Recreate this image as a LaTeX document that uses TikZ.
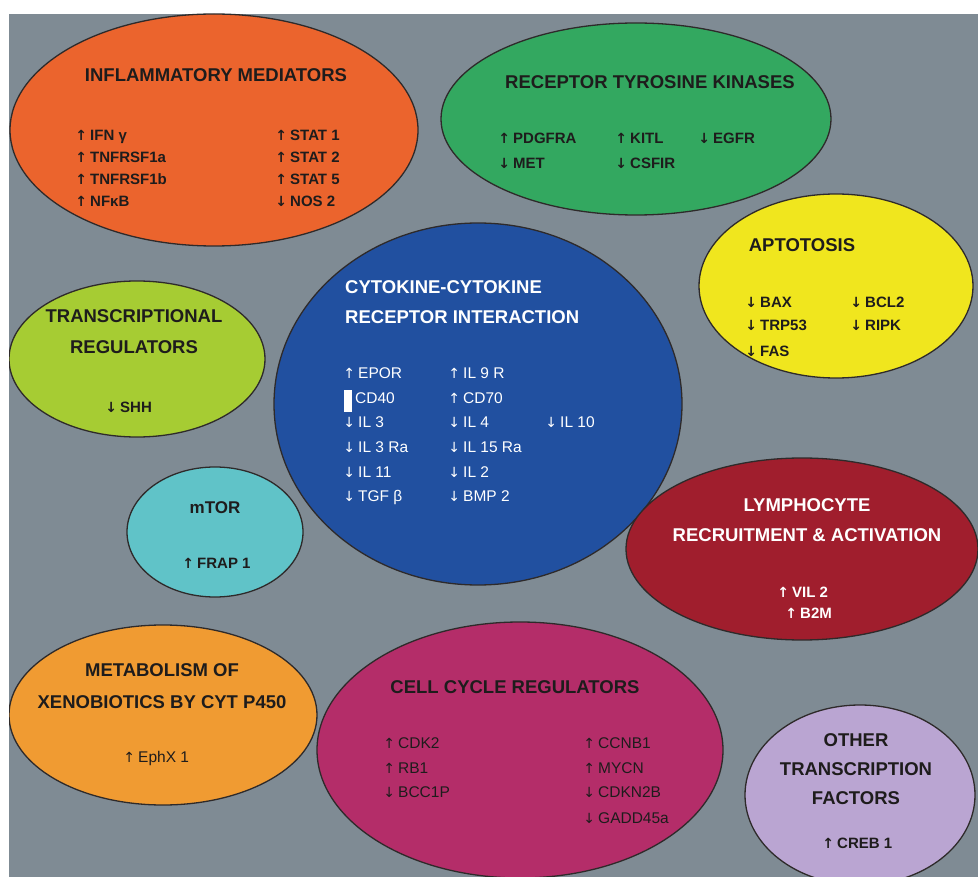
\documentclass[tikz,border=0pt]{standalone}
\usepackage{fontspec}
\setmainfont{Liberation Sans}
\newfontfamily\arrowfont{DejaVu Sans}
\usetikzlibrary{shapes.geometric}

\definecolor{backdrop}{HTML}{7F8B94}
\definecolor{edgecol}{HTML}{2E2A2A}
\definecolor{darktext}{HTML}{1E1C1C}
\definecolor{inflamcol}{HTML}{EB642D}
\definecolor{rtkcol}{HTML}{33A860}
\definecolor{apopcol}{HTML}{F0E61E}
\definecolor{transccol}{HTML}{A6CC33}
\definecolor{cytocol}{HTML}{2150A0}
\definecolor{mtorcol}{HTML}{60C3C8}
\definecolor{lymphcol}{HTML}{A01E2D}
\definecolor{metabcol}{HTML}{F09B32}
\definecolor{cellcol}{HTML}{B42D69}
\definecolor{othercol}{HTML}{BAA5D2}

\newcommand{\incr}{\makebox[11pt][l]{\hspace{2pt}\makebox[0pt][c]{\arrowfont\fontsize{14}{14}\selectfont ↑}}}
\newcommand{\decr}{\makebox[11pt][l]{\hspace{2pt}\makebox[0pt][c]{\arrowfont\fontsize{14}{14}\selectfont ↓}}}
\newcommand{\blankmark}{\makebox[11pt][l]{\color{white}\rule[-9pt]{8pt}{22pt}}}

\begin{document}
\begin{tikzpicture}[x=1pt, y=-1pt,
        bubble/.style = {ellipse, draw=edgecol, line width=1.3pt, inner sep=0pt},
        heading/.style = {font=\bfseries\fontsize{18.5}{30}\selectfont, inner sep=0pt,
            align=center, text=darktext},
        gene/.style = {font=\fontsize{15.5}{15.5}\selectfont, inner sep=0pt,
            anchor=base west, text=darktext},
        boldgene/.style = {gene, font=\bfseries\fontsize{15}{15}\selectfont}]
    \useasboundingbox (0,0) rectangle (978,877);
    \fill[white] (0,0) rectangle (978,877);
    \fill[backdrop] (9,14) rectangle (978,877);

    % the bubbles
    \begin{scope}
        \clip (9,14) rectangle (978,877);
        \node[bubble, fill=inflamcol, minimum width=408pt, minimum height=232pt] (inflam) at (214,130) {};
        \node[bubble, fill=rtkcol, minimum width=390pt, minimum height=192pt] (rtk) at (636,119) {};
        \node[bubble, fill=apopcol, minimum width=274pt, minimum height=184pt] (apop) at (836,286) {};
        \node[bubble, fill=transccol, minimum width=256pt, minimum height=156pt] (transc) at (137,359) {};
        \node[bubble, fill=cytocol, minimum width=408pt, minimum height=362pt] (cyto) at (478,404) {};
        \node[bubble, fill=mtorcol, minimum width=176pt, minimum height=130pt] (mtor) at (215,532) {};
        \node[bubble, fill=lymphcol, minimum width=352pt, minimum height=182pt] (lymph) at (802,549) {};
        \node[bubble, fill=metabcol, minimum width=308pt, minimum height=180pt] (metab) at (163,715) {};
        \node[bubble, fill=cellcol, minimum width=406pt, minimum height=256pt] (cell) at (520,750) {};
        \node[bubble, fill=othercol, minimum width=230pt, minimum height=180pt] (other) at (860,795) {};
    \end{scope}

    % inflammatory mediators
    \node[heading] (inflamtitle) at (216,75) {INFLAMMATORY MEDIATORS};
    \node[boldgene] (ifng) at (79,141) {\incr IFN γ};
    \node[boldgene] (tnfa) at (79,163) {\incr TNFRSF1a};
    \node[boldgene] (tnfb) at (79,185) {\incr TNFRSF1b};
    \node[boldgene] (nfkb) at (79,207) {\incr NFκB};
    \node[boldgene] (stat1) at (279,141) {\incr STAT 1};
    \node[boldgene] (stat2) at (279,163) {\incr STAT 2};
    \node[boldgene] (stat5) at (279,185) {\incr STAT 5};
    \node[boldgene] (nos2) at (279,207) {\decr NOS 2};

    % receptor tyrosine kinases
    \node[heading] (rtktitle) at (650,82) {RECEPTOR TYROSINE KINASES};
    \node[boldgene] (pdgfra) at (502,143.5) {\incr PDGFRA};
    \node[boldgene] (met) at (502,168.5) {\decr MET};
    \node[boldgene] (kitl) at (619,143.5) {\incr KITL};
    \node[boldgene] (csfir) at (619,168.5) {\decr CSFIR};
    \node[boldgene] (egfr) at (702,143.5) {\decr EGFR};

    % aptotosis
    \node[heading] (apoptitle) at (802,245) {APTOTOSIS};
    \node[boldgene] (bax) at (749,307.5) {\decr BAX};
    \node[boldgene] (trp) at (749,331) {\decr TRP53};
    \node[boldgene] (fas) at (749,357) {\decr FAS};
    \node[boldgene] (bcl) at (854,307.5) {\decr BCL2};
    \node[boldgene] (ripk) at (854,331) {\decr RIPK};

    % transcriptional regulators
    \node[heading, font=\bfseries\fontsize{18.5}{31}\selectfont] (transctitle) at (134,332)
        {TRANSCRIPTIONAL\\REGULATORS};
    \node[boldgene] (shh) at (109,412.5) {\decr SHH};

    % cytokine-cytokine receptor interaction
    \node[heading, align=left, anchor=west, text=white] (cytotitle) at (345,302)
        {CYTOKINE-CYTOKINE\\RECEPTOR INTERACTION};
    \node[gene, text=white] (epor) at (347,378.5) {\incr EPOR};
    \node[gene, text=white] (cd40) at (344,403.5) {\blankmark CD40};
    \node[gene, text=white] (il3) at (347,427.5) {\decr IL 3};
    \node[gene, text=white] (il3ra) at (347,452.5) {\decr IL 3 Ra};
    \node[gene, text=white] (il11) at (347,477.5) {\decr IL 11};
    \node[gene, text=white] (tgfb) at (347,501.5) {\decr TGF β};
    \node[gene, text=white] (il9r) at (452,378.5) {\incr IL 9 R};
    \node[gene, text=white] (cd70) at (452,403.5) {\incr CD70};
    \node[gene, text=white] (il4) at (452,427.5) {\decr IL 4};
    \node[gene, text=white] (il15ra) at (452,452.5) {\decr IL 15 Ra};
    \node[gene, text=white] (il2) at (452,477.5) {\decr IL 2};
    \node[gene, text=white] (bmp2) at (452,501.5) {\decr BMP 2};
    \node[gene, text=white] (il10) at (549,427.5) {\decr IL 10};

    % mTOR
    \node[heading, font=\bfseries\fontsize{17}{17}\selectfont] (mtortitle) at (215,508) {mTOR};
    \node[boldgene] (frap) at (186,568.5) {\incr FRAP 1};

    % lymphocyte recruitment and activation
    \node[heading, text=white] (lymphtitle) at (807,520) {LYMPHOCYTE\\RECRUITMENT \& ACTIVATION};
    \node[boldgene, text=white] (vil2) at (781,597.5) {\incr VIL 2};
    \node[boldgene, text=white] (b2m) at (789,618.5) {\incr B2M};

    % metabolism of xenobiotics
    \node[heading, font=\bfseries\fontsize{18.5}{32}\selectfont] (metabtitle) at (162,686)
        {METABOLISM OF\\XENOBIOTICS BY CYT P450};
    \node[gene] (ephx) at (127,762.5) {\incr EphX 1};

    % cell cycle regulators
    \node[heading] (celltitle) at (515,687) {CELL CYCLE REGULATORS};
    \node[gene] (cdk2) at (387,748.5) {\incr CDK2};
    \node[gene] (rb1) at (387,773.5) {\incr RB1};
    \node[gene] (bcc1p) at (387,797.5) {\decr BCC1P};
    \node[gene] (ccnb1) at (587,748.5) {\incr CCNB1};
    \node[gene] (mycn) at (587,773.5) {\incr MYCN};
    \node[gene] (cdkn2b) at (587,797.5) {\decr CDKN2B};
    \node[gene] (gadd) at (587,823.5) {\decr GADD45a};

    % other transcription factors
    \node[heading, font=\bfseries\fontsize{18.5}{29}\selectfont] (othertitle) at (856,769)
        {OTHER\\TRANSCRIPTION\\FACTORS};
    \node[boldgene] (creb) at (826,848.5) {\incr CREB 1};
\end{tikzpicture}
\end{document}
